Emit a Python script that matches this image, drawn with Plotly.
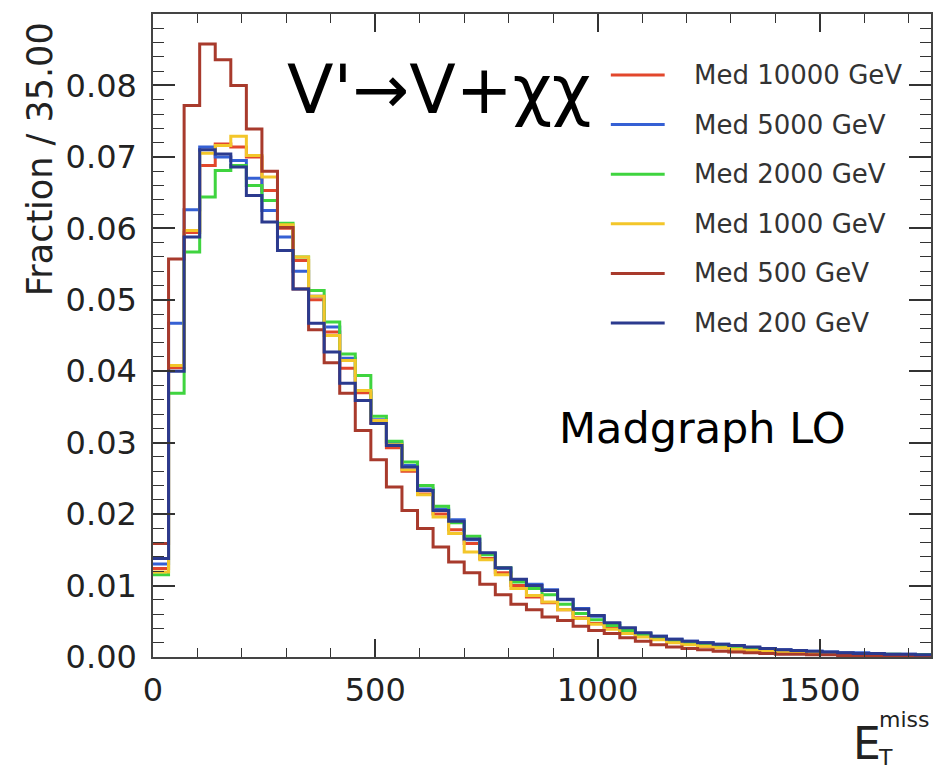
import numpy as np
import plotly.graph_objects as go

bin_width = 35
n_bins = 50

series_names = ["Med 10000 GeV", "Med 5000 GeV", "Med 2000 GeV",
                "Med 1000 GeV", "Med 500 GeV", "Med 200 GeV"]
series_colors = ["#e2472c", "#3560d4", "#3fd43f", "#f3c62a", "#a83a2c", "#2b3a8e"]

med10000 = [0.0124, 0.0405, 0.0594, 0.0688, 0.0718, 0.0714, 0.0700, 0.0653, 0.0600, 0.0555,
            0.0500, 0.0455, 0.0404, 0.0370, 0.0328, 0.0293, 0.0260, 0.0228, 0.0200, 0.0178,
            0.0159, 0.0138, 0.0118, 0.0100, 0.0084, 0.0076, 0.0066, 0.0055, 0.0047, 0.0040,
            0.0034, 0.0029, 0.0025, 0.0021, 0.0018, 0.0015, 0.0013, 0.0011, 0.0010, 0.0008,
            0.0007, 0.0006, 0.0005, 0.0005, 0.0004, 0.0003, 0.0003, 0.0003, 0.0002, 0.0002]
med5000 = [0.0130, 0.0467, 0.0626, 0.0714, 0.0700, 0.0695, 0.0670, 0.0625, 0.0588, 0.0540,
           0.0505, 0.0462, 0.0418, 0.0373, 0.0332, 0.0300, 0.0268, 0.0235, 0.0207, 0.0192,
           0.0164, 0.0145, 0.0124, 0.0108, 0.0102, 0.0094, 0.0080, 0.0068, 0.0057, 0.0047,
           0.0040, 0.0033, 0.0029, 0.0025, 0.0022, 0.0020, 0.0018, 0.0016, 0.0013, 0.0012,
           0.0010, 0.0009, 0.0008, 0.0007, 0.0006, 0.0006, 0.0005, 0.0004, 0.0004, 0.0003]
med2000 = [0.0115, 0.0369, 0.0567, 0.0644, 0.0681, 0.0688, 0.0660, 0.0639, 0.0607, 0.0560,
           0.0513, 0.0469, 0.0424, 0.0394, 0.0337, 0.0302, 0.0273, 0.0240, 0.0211, 0.0188,
           0.0169, 0.0143, 0.0125, 0.0105, 0.0096, 0.0087, 0.0074, 0.0061, 0.0052, 0.0044,
           0.0037, 0.0031, 0.0027, 0.0023, 0.0020, 0.0018, 0.0016, 0.0014, 0.0012, 0.0010,
           0.0009, 0.0008, 0.0007, 0.0006, 0.0005, 0.0005, 0.0004, 0.0004, 0.0003, 0.0003]
med1000 = [0.0119, 0.0408, 0.0597, 0.0705, 0.0716, 0.0729, 0.0702, 0.0672, 0.0605, 0.0560,
           0.0505, 0.0450, 0.0415, 0.0373, 0.0331, 0.0297, 0.0262, 0.0227, 0.0196, 0.0173,
           0.0147, 0.0136, 0.0115, 0.0096, 0.0086, 0.0077, 0.0066, 0.0054, 0.0046, 0.0039,
           0.0033, 0.0028, 0.0024, 0.0020, 0.0017, 0.0015, 0.0013, 0.0011, 0.0009, 0.0008,
           0.0007, 0.0006, 0.0005, 0.0004, 0.0004, 0.0003, 0.0003, 0.0002, 0.0002, 0.0002]
med500 = [0.0159, 0.0557, 0.0772, 0.0858, 0.0836, 0.0800, 0.0739, 0.0680, 0.0601, 0.0515,
          0.0458, 0.0412, 0.0369, 0.0317, 0.0276, 0.0238, 0.0205, 0.0180, 0.0154, 0.0133,
          0.0118, 0.0102, 0.0087, 0.0074, 0.0066, 0.0056, 0.0051, 0.0043, 0.0037, 0.0033,
          0.0027, 0.0022, 0.0017, 0.0014, 0.0012, 0.0010, 0.0008, 0.0007, 0.0006, 0.0005,
          0.0004, 0.0004, 0.0003, 0.0003, 0.0002, 0.0002, 0.0002, 0.0001, 0.0001, 0.0001]
med200 = [0.0138, 0.0400, 0.0588, 0.0710, 0.0704, 0.0686, 0.0646, 0.0609, 0.0569, 0.0515,
          0.0467, 0.0427, 0.0383, 0.0359, 0.0327, 0.0296, 0.0266, 0.0233, 0.0205, 0.0190,
          0.0165, 0.0146, 0.0125, 0.0109, 0.0100, 0.0093, 0.0081, 0.0067, 0.0058, 0.0048,
          0.0041, 0.0034, 0.0029, 0.0025, 0.0022, 0.0020, 0.0018, 0.0016, 0.0014, 0.0012,
          0.0010, 0.0009, 0.0008, 0.0007, 0.0006, 0.0005, 0.0005, 0.0004, 0.0004, 0.0003]

all_series = [med10000, med5000, med2000, med1000, med500, med200]

x_ticks = [0, 500, 1000, 1500]
x_tick_labels = ["0", "500", "1000", "1500"]
y_ticks = [0.00, 0.01, 0.02, 0.03, 0.04, 0.05, 0.06, 0.07, 0.08]
y_tick_labels = ["0.00", "0.01", "0.02", "0.03", "0.04", "0.05", "0.06", "0.07", "0.08"]

edges = np.arange(n_bins + 1) * bin_width

W, H = 940, 770
L, R, T, B = 153, 7, 14, 113
pw, ph = W - L - R, H - T - B


def px(x):
    return (x - L) / pw


def py(y):
    return (H - B - y) / ph


FONT = "DejaVu Sans"
fig = go.Figure()
for name, color, vals in zip(series_names, series_colors, all_series):
    fig.add_trace(go.Scatter(
        x=edges, y=list(vals) + [vals[-1]],
        mode="lines", line=dict(shape="hv", color=color, width=3),
        name=name, showlegend=False,
    ))

axis_common = dict(showline=True, linecolor="#444", linewidth=1.5, mirror="ticks",
                   ticks="inside", tickcolor="#333", tickwidth=1.5,
                   showgrid=False, zeroline=False,
                   tickfont=dict(family=FONT, size=32, color="#222"))

fig.update_xaxes(range=[0, 1750], tickvals=x_ticks, ticktext=x_tick_labels,
                 ticklen=18, ticklabelstandoff=4,
                 minor=dict(ticks="inside", dtick=100, ticklen=9, tickcolor="#333", tickwidth=1.2),
                 **axis_common)
fig.update_yaxes(range=[0, 0.09], tickvals=y_ticks, ticktext=y_tick_labels,
                 ticklen=22, ticklabelstandoff=8,
                 minor=dict(ticks="inside", dtick=0.002, ticklen=11, tickcolor="#333", tickwidth=1.2),
                 **axis_common)

annotations = [
    dict(x=px(285), y=py(89), text="V'\u2192V+\u03c7\u03c7", xanchor="left", yanchor="middle",
         font=dict(family=FONT, size=68, color="#000"), showarrow=False),
    dict(x=px(558), y=py(428), text="Madgraph LO", xanchor="left", yanchor="middle",
         font=dict(family=FONT, size=43, color="#000"), showarrow=False),
    dict(x=px(40), y=py(159), text="Fraction / 35.00", textangle=-90, xanchor="center", yanchor="middle",
         font=dict(family=FONT, size=35, color="#222"), showarrow=False),
    dict(x=px(853), y=py(743), text="E", xanchor="left", yanchor="middle",
         font=dict(family=FONT, size=44, color="#222"), showarrow=False),
    dict(x=px(879), y=py(719), text="miss", xanchor="left", yanchor="middle",
         font=dict(family=FONT, size=22, color="#222"), showarrow=False),
    dict(x=px(878), y=py(757), text="T", xanchor="left", yanchor="middle",
         font=dict(family=FONT, size=22, color="#222"), showarrow=False),
]

# legend drawn as line samples + labels
legend_row0, legend_step = 75, 49.6
shapes = []
for i, (name, color) in enumerate(zip(series_names, series_colors)):
    yrow = legend_row0 + i * legend_step
    shapes.append(dict(type="line", xref="paper", yref="paper",
                       x0=px(612), x1=px(666), y0=py(yrow), y1=py(yrow),
                       line=dict(color=color, width=3)))
    annotations.append(dict(x=px(693), y=py(yrow), text=name, xanchor="left", yanchor="middle",
                            font=dict(family=FONT, size=26, color="#333"), showarrow=False))

for a in annotations:
    a.update(xref="paper", yref="paper")

fig.update_layout(
    width=W, height=H,
    margin=dict(l=L, r=R, t=T, b=B),
    paper_bgcolor="white", plot_bgcolor="white",
    showlegend=False,
    annotations=annotations,
    shapes=shapes,
)

fig.write_html("out.html")
